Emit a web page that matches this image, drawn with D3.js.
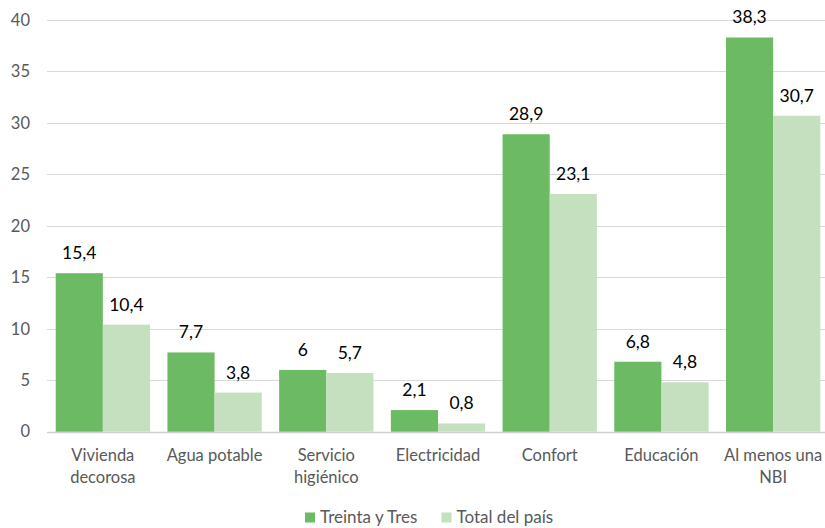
<!DOCTYPE html>
<html><head><meta charset="utf-8">
<script src="https://cdn.jsdelivr.net/npm/d3@7"></script>
<style>body{margin:0;background:#fff}svg{display:block;font-family:Lato,"Open Sans",sans-serif}</style>
</head><body><svg id="c" width="825" height="528"></svg>
<script>
const categories = ["Vivienda decorosa","Agua potable","Servicio higiénico","Electricidad","Confort","Educación","Al menos una NBI"];
const categoryLines = [["Vivienda","decorosa"],["Agua potable"],["Servicio","higiénico"],["Electricidad"],["Confort"],["Educación"],["Al menos una","NBI"]];
const seriesNames = ["Treinta y Tres","Total del país"];
const treintaYTres = [15.4,7.7,6,2.1,28.9,6.8,38.3];
const totalPais = [10.4,3.8,5.7,0.8,23.1,4.8,30.7];
const yTicks = [0,5,10,15,20,25,30,35,40];
const colors = ["#6cba63","#c5e0bf"];

const svg = d3.select("#c");
const y = d3.scaleLinear().domain([0,40]).range([431.7,20]);
const x0 = d3.scaleBand().domain(categories).range([47,829]).paddingInner(0.156).paddingOuter(0.078);
const x1 = d3.scaleBand().domain(seriesNames).range([0,x0.bandwidth()]);
const fmt = v => String(v).replace(".",",");

// grid
svg.append("g").selectAll("line").data(yTicks).join("line")
  .attr("x1",47).attr("x2",825).attr("y1",d=>Math.round(y(d))+0.5).attr("y2",d=>Math.round(y(d))+0.5)
  .attr("stroke",d=>d===0?"#d0d0d0":"#d9d9d9").attr("stroke-width",d=>d===0?1.5:1);
// y axis labels
const yAxis = d3.axisLeft(y).tickValues(yTicks).tickSize(0).tickPadding(0);
const ga = svg.append("g").attr("transform","translate(30,0)").call(yAxis);
ga.select(".domain").remove();
ga.selectAll("text").attr("fill","#595959").style("font-size","16.5px").style("font-family","Lato");

const data = [treintaYTres,totalPais];
data.forEach((vals,si)=>{
  const g = svg.append("g");
  g.selectAll("rect").data(vals).join("rect")
    .attr("x",(d,i)=>x0(categories[i])+x1(seriesNames[si]))
    .attr("y",d=>y(d)).attr("width",x1.bandwidth()).attr("height",d=>y(0)-y(d))
    .attr("fill",colors[si]);
  g.selectAll("text").data(vals).join("text")
    .attr("x",(d,i)=>x0(categories[i])+x1(seriesNames[si])+x1.bandwidth()/2)
    .attr("y",d=>y(d)-14).attr("text-anchor","middle")
    .attr("fill","#000").style("font-size","17.5px").text(fmt);
});

// category labels
const gc = svg.append("g");
categories.forEach((c,i)=>{
  const t = gc.append("text").attr("x",x0(c)+x0.bandwidth()/2).attr("y",461)
    .attr("text-anchor","middle").attr("fill","#595959").style("font-size","16.5px");
  categoryLines[i].forEach((l,j)=>t.append("tspan").attr("x",x0(c)+x0.bandwidth()/2).attr("dy",j?22:0).text(l));
});

// legend
const legendX = [305,441.5];
seriesNames.forEach((n,i)=>{
  svg.append("rect").attr("x",legendX[i]).attr("y",512.5).attr("width",10).attr("height",10).attr("fill",colors[i]);
  svg.append("text").attr("x",legendX[i]+15).attr("y",522.5).attr("fill","#595959").style("font-size","17px").text(n);
});
</script></body></html>
